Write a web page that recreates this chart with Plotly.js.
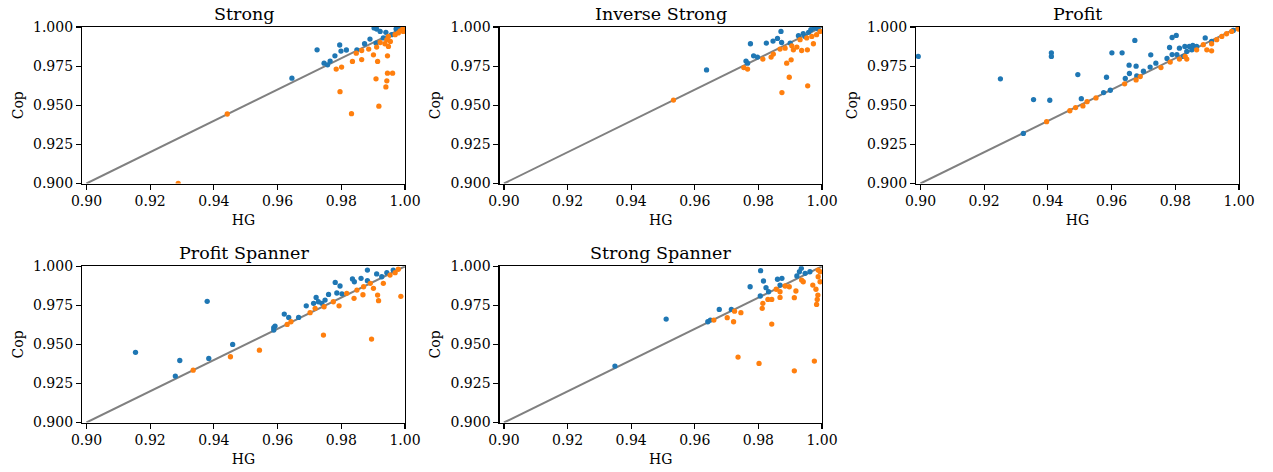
<!DOCTYPE html>
<html>
<head>
<meta charset="utf-8">
<script src="https://cdn.plot.ly/plotly-3.0.1.min.js"></script>
<style>html,body{margin:0;padding:0;background:#fff;}#chart{width:1273px;height:472px;}</style>
</head>
<body>
<div id="chart"></div>
<script>
// ---- data ----
const panelTitles = ["Strong", "Inverse Strong", "Profit", "Profit Spanner", "Strong Spanner"];
const xTickVals = [0.90, 0.92, 0.94, 0.96, 0.98, 1.00];
const yTickVals = [0.900, 0.925, 0.950, 0.975, 1.000];
const refLineX = [0.9, 1.0];
const refLineY = [0.9, 1.0];

const strongBlueX = [0.9645,0.9724,0.9746,0.9757,0.9765,0.9780,0.9795,0.9799,0.9816,0.9849,0.9873,0.9890,0.9903,0.9911,0.9922,0.9940,0.9958,0.9972,0.9909,0.9932,0.9985,0.9995];
const strongBlueY = [0.9673,0.9854,0.9769,0.9758,0.9782,0.9816,0.9885,0.9846,0.9853,0.9854,0.9893,0.9923,0.9994,0.9987,0.9972,0.9966,0.9951,0.9987,0.9897,0.9930,0.9990,0.9998];
const strongOrangeX = [0.9288,0.9442,0.9784,0.9801,0.9835,0.9864,0.9796,0.9832,0.9847,0.9864,0.9886,0.9901,0.9914,0.9945,0.9945,0.9961,0.9909,0.9943,0.9940,0.9918,0.9911,0.9922,0.9937,0.9948,0.9943,0.9954,0.9948,0.9969,0.9979,0.9995,0.9993,0.9985];
const strongOrangeY = [0.9000,0.9444,0.9731,0.9744,0.9780,0.9792,0.9587,0.9446,0.9833,0.9850,0.9859,0.9822,0.9780,0.9816,0.9705,0.9705,0.9669,0.9656,0.9617,0.9494,0.9872,0.9901,0.9893,0.9876,0.9919,0.9908,0.9940,0.9951,0.9962,0.9972,0.9987,0.9975];

const invBlueX = [0.9637,0.9761,0.9766,0.9775,0.9785,0.9797,0.9825,0.9846,0.9860,0.9871,0.9873,0.9900,0.9926,0.9941,0.9958,0.9965,0.9975,0.9988,0.9947];
const invBlueY = [0.9726,0.9782,0.9769,0.9893,0.9816,0.9808,0.9897,0.9910,0.9927,0.9972,0.9901,0.9897,0.9944,0.9957,0.9966,0.9983,0.9994,0.9987,0.9940];
const invOrangeX = [0.9533,0.9754,0.9766,0.9814,0.9840,0.9847,0.9868,0.9884,0.9889,0.9903,0.9897,0.9874,0.9955,0.9910,0.9936,0.9954,0.9973,0.9931,0.9952,0.9968,0.9983,0.9994,0.9905,0.9921];
const invOrangeY = [0.9533,0.9741,0.9731,0.9795,0.9808,0.9827,0.9859,0.9865,0.9769,0.9790,0.9679,0.9581,0.9624,0.9854,0.9850,0.9854,0.9893,0.9919,0.9930,0.9940,0.9951,0.9972,0.9880,0.9872];

const profitBlueX = [0.8993,0.9251,0.9355,0.9406,0.9411,0.9411,0.9323,0.9494,0.9505,0.9575,0.9584,0.9596,0.9601,0.9633,0.9643,0.9656,0.9655,0.9673,0.9677,0.9679,0.9700,0.9721,0.9723,0.9739,0.9774,0.9782,0.9790,0.9790,0.9803,0.9805,0.9813,0.9830,0.9836,0.9855,0.9844,0.9867,0.9894,0.9914,0.9982,0.9826,0.9852];
const profitBlueY = [0.9812,0.9669,0.9536,0.9532,0.9835,0.9812,0.9320,0.9696,0.9542,0.9581,0.9679,0.9596,0.9835,0.9835,0.9671,0.9703,0.9756,0.9914,0.9750,0.9688,0.9718,0.9744,0.9822,0.9769,0.9799,0.9869,0.9824,0.9933,0.9946,0.9824,0.9865,0.9876,0.9844,0.9882,0.9876,0.9876,0.9930,0.9908,0.9978,0.9812,0.9854];
const profitOrangeX = [0.9396,0.9469,0.9487,0.9510,0.9523,0.9551,0.9641,0.9677,0.9690,0.9755,0.9784,0.9813,0.9831,0.9836,0.9867,0.9899,0.9914,0.9888,0.9914,0.9930,0.9946,0.9961,0.9998,0.9977];
const profitOrangeY = [0.9395,0.9465,0.9485,0.9496,0.9523,0.9547,0.9637,0.9662,0.9683,0.9741,0.9776,0.9795,0.9812,0.9795,0.9854,0.9854,0.9848,0.9887,0.9893,0.9919,0.9940,0.9957,0.9987,0.9972];

const pspanBlueX = [0.9154,0.9293,0.9279,0.9379,0.9384,0.9459,0.9588,0.9592,0.9588,0.9621,0.9635,0.9666,0.9690,0.9713,0.9721,0.9728,0.9739,0.9749,0.9760,0.9781,0.9796,0.9786,0.9802,0.9835,0.9841,0.9862,0.9882,0.9882,0.9911,0.9927,0.9943,0.9963];
const pspanBlueY = [0.9449,0.9397,0.9297,0.9776,0.9410,0.9500,0.9607,0.9617,0.9592,0.9694,0.9673,0.9673,0.9747,0.9763,0.9801,0.9773,0.9763,0.9784,0.9820,0.9897,0.9874,0.9829,0.9824,0.9919,0.9901,0.9923,0.9976,0.9908,0.9951,0.9933,0.9959,0.9976];
const pspanOrangeX = [0.9335,0.9452,0.9543,0.9630,0.9642,0.9702,0.9744,0.9746,0.9775,0.9793,0.9840,0.9868,0.9895,0.9901,0.9914,0.9917,0.9932,0.9987,0.9817,0.9849,0.9870,0.9891,0.9953,0.9969,0.9979,0.9718];
const pspanOrangeY = [0.9335,0.9421,0.9463,0.9628,0.9645,0.9703,0.9560,0.9741,0.9773,0.9747,0.9795,0.9818,0.9534,0.9859,0.9816,0.9780,0.9891,0.9808,0.9827,0.9848,0.9869,0.9891,0.9944,0.9959,0.9981,0.9731];

const sspanBlueX = [0.9349,0.9510,0.9641,0.9649,0.9677,0.9715,0.9774,0.9807,0.9816,0.9806,0.9824,0.9832,0.9860,0.9874,0.9868,0.9921,0.9929,0.9935,0.9947,0.9962];
const sspanBlueY = [0.9361,0.9662,0.9645,0.9656,0.9724,0.9724,0.9869,0.9972,0.9906,0.9810,0.9863,0.9837,0.9917,0.9923,0.9880,0.9938,0.9965,0.9987,0.9955,0.9965];
const sspanOrangeX = [0.9660,0.9702,0.9722,0.9725,0.9745,0.9736,0.9802,0.9812,0.9814,0.9830,0.9842,0.9842,0.9868,0.9868,0.9856,0.9884,0.9897,0.9913,0.9918,0.9913,0.9936,0.9941,0.9971,0.9976,0.9981,0.9987,0.9985,0.9983,0.9988,0.9994,0.9988,0.9994];
const sspanOrangeY = [0.9656,0.9671,0.9645,0.9713,0.9703,0.9419,0.9378,0.9731,0.9763,0.9788,0.9788,0.9630,0.9801,0.9837,0.9853,0.9874,0.9869,0.9799,0.9842,0.9331,0.9912,0.9901,0.9880,0.9393,0.9853,0.9816,0.9788,0.9756,0.9933,0.9901,0.9976,0.9965];

const panelData = [
  [strongBlueX, strongBlueY, strongOrangeX, strongOrangeY],
  [invBlueX, invBlueY, invOrangeX, invOrangeY],
  [profitBlueX, profitBlueY, profitOrangeX, profitOrangeY],
  [pspanBlueX, pspanBlueY, pspanOrangeX, pspanOrangeY],
  [sspanBlueX, sspanBlueY, sspanOrangeX, sspanOrangeY]
];

// ---- layout geometry ----
const W = 1273, H = 472;
const colPx = [[82, 405], [499.5, 822], [916, 1239]];
const rowPx = [[27, 183.5], [266.3, 422.5]];
const FONT = "DejaVu Serif, serif";
const blue = "#1f77b4", orange = "#ff7f0e";

const traces = [];
const layout = {
  width: W, height: H,
  margin: {l: 0, r: 0, t: 0, b: 0},
  paper_bgcolor: "#fff", plot_bgcolor: "#fff",
  showlegend: false,
  font: {family: FONT, size: 14, color: "#000"},
  annotations: []
};

panelData.forEach((d, i) => {
  const row = Math.floor(i / 3), col = i % 3;
  const n = i + 1;
  const xa = "x" + (n === 1 ? "" : n), ya = "y" + (n === 1 ? "" : n);
  const xKey = "xaxis" + (n === 1 ? "" : n), yKey = "yaxis" + (n === 1 ? "" : n);
  traces.push({x: refLineX, y: refLineY, xaxis: xa, yaxis: ya, mode: "lines",
    line: {color: "#808080", width: 2}, hoverinfo: "skip"});
  traces.push({x: d[0], y: d[1], xaxis: xa, yaxis: ya, mode: "markers", type: "scatter",
    marker: {color: blue, size: 5.3, line: {width: 0}}});
  traces.push({x: d[2], y: d[3], xaxis: xa, yaxis: ya, mode: "markers", type: "scatter",
    marker: {color: orange, size: 5.3, line: {width: 0}}});

  const xd = [colPx[col][0] / W, colPx[col][1] / W];
  const yd = [1 - rowPx[row][1] / H, 1 - rowPx[row][0] / H];
  layout[xKey] = {
    domain: xd, anchor: ya, range: [0.8986, 1.0],
    tickvals: xTickVals, ticktext: xTickVals.map(v => v.toFixed(2)),
    ticks: "outside", ticklen: 5, tickwidth: 1.1, tickcolor: "#000",
    showline: true, mirror: true, linecolor: "#000", linewidth: 1.1,
    showgrid: false, zeroline: false, automargin: false,
    tickfont: {family: FONT, size: 14, color: "#000"},
    title: {text: "HG", font: {family: FONT, size: 14, color: "#000"}, standoff: 6}
  };
  layout[yKey] = {
    domain: yd, anchor: xa, range: [0.9, 1.0],
    tickvals: yTickVals, ticktext: yTickVals.map(v => v.toFixed(3)),
    ticks: "outside", ticklen: 5, tickwidth: 1.1, tickcolor: "#000",
    showline: true, mirror: true, linecolor: "#000", linewidth: 1.1,
    showgrid: false, zeroline: false, automargin: false,
    tickfont: {family: FONT, size: 14, color: "#000"},
    title: {text: "Cop", font: {family: FONT, size: 14, color: "#000"}, standoff: 6}
  };
  layout.annotations.push({
    text: panelTitles[i], xref: "paper", yref: "paper",
    x: (xd[0] + xd[1]) / 2, y: yd[1], xanchor: "center", yanchor: "bottom",
    yshift: 1, showarrow: false, font: {family: FONT, size: 17.5, color: "#000"}
  });
});

Plotly.newPlot("chart", traces, layout, {staticPlot: true, displayModeBar: false});
</script>
</body>
</html>
